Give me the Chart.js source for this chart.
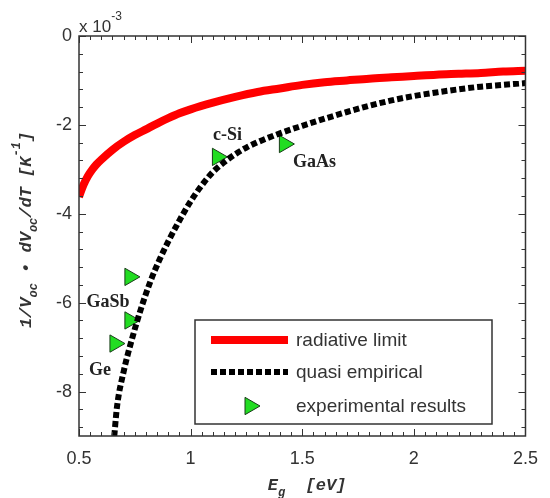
<!DOCTYPE html>
<html>
<head>
<meta charset="utf-8">
<script src="https://cdn.jsdelivr.net/npm/chart.js@4.4.0/dist/chart.umd.min.js"></script>
<style>
  html, body { margin: 0; padding: 0; background: #fff; }
  #wrap { width: 550px; height: 498px; }
</style>
</head>
<body>
<div id="wrap"><canvas id="vocChart" width="550" height="498"></canvas></div>
<script>
// Eg [eV] vs 1/Voc * dVoc/dT, values in units of 1e-3 K^-1
const radEnergy = [0.5, 0.52, 0.54, 0.56, 0.58, 0.6, 0.65, 0.7, 0.75, 0.8, 0.85, 0.9, 0.95, 1.0, 1.1, 1.2, 1.3, 1.4, 1.5,
                   1.6, 1.7, 1.8, 1.9, 2.0, 2.1, 2.2, 2.3, 2.4, 2.5];
const radiativeLimit = [-3.62, -3.35, -3.15, -3.0, -2.88, -2.78, -2.56, -2.38, -2.23, -2.1, -1.97, -1.85, -1.74, -1.65, -1.5, -1.37, -1.26, -1.18, -1.1,
                        -1.04, -1.0, -0.96, -0.93, -0.9, -0.87, -0.85, -0.83, -0.8, -0.78];

const quasiEnergy = [0.658, 0.67, 0.70, 0.74, 0.78, 0.82, 0.86, 0.90, 0.95, 1.00, 1.05, 1.10, 1.15, 1.20, 1.25,
                     1.30, 1.40, 1.50, 1.60, 1.70, 1.80, 1.90, 2.00, 2.10, 2.20, 2.30, 2.40, 2.50];
const quasiEmpirical = [-9.0, -8.35, -7.55, -6.77, -6.1, -5.52, -5.04, -4.62, -4.15, -3.72, -3.36, -3.06, -2.84, -2.66, -2.51,
                        -2.39, -2.19, -2.02, -1.86, -1.71, -1.57, -1.45, -1.35, -1.27, -1.2, -1.14, -1.1, -1.06];

const expEnergy = [1.12, 1.42, 0.728, 0.728, 0.661];
const expValues = [-2.72, -2.43, -5.42, -6.40, -6.92];
const expNames = ['c-Si', 'GaAs', 'GaSb', '', 'Ge'];

const xTicks = [0.5, 1, 1.5, 2, 2.5];
const yTicks = [0, -2, -4, -6, -8];

const toPoints = (xs, ys) => xs.map((v, i) => ({ x: v, y: ys[i] }));

// label offsets from marker, px
const nameOffsets = { 'c-Si': [10, -22], 'GaAs': [30, 18], 'GaSb': [-22, 25], 'Ge': [-15, 27] };

const axisColor = '#333';
const textColor = '#333';
const monoFont = 'bold italic 17px "Liberation Mono", monospace';
const monoSmall = 'bold italic 12px "Liberation Mono", monospace';

function drawRich(ctx, parts, x, y, rot) {
    ctx.save();
    ctx.translate(x, y);
    if (rot) ctx.rotate(rot);
    let total = 0;
    parts.forEach(p => { ctx.font = p.font; p.w = ctx.measureText(p.t).width; total += p.w; });
    let cx = -total / 2;
    ctx.textAlign = 'left';
    ctx.textBaseline = 'alphabetic';
    parts.forEach(p => { ctx.font = p.font; ctx.fillText(p.t, cx, p.dy || 0); cx += p.w; });
    ctx.restore();
}

function triangle(ctx, x, y, r) {
    if (Chart.helpers && Chart.helpers.drawPoint) {
        Chart.helpers.drawPoint(ctx, { pointStyle: 'triangle', rotation: 90, radius: r, borderWidth: 1 }, x, y);
        return;
    }
    ctx.beginPath();
    ctx.moveTo(x + r, y);
    ctx.lineTo(x - r / 2, y - r * 0.866);
    ctx.lineTo(x - r / 2, y + r * 0.866);
    ctx.closePath();
    ctx.fill();
    ctx.stroke();
}

const framePlugin = {
    id: 'frame',
    afterDraw(chart) {
        const { ctx, chartArea: a, scales: { x, y } } = chart;
        ctx.save();
        ctx.strokeStyle = axisColor;
        ctx.lineWidth = 1;
        ctx.beginPath();
        // x ticks, top and bottom, inside
        for (let i = 0; i <= 40; i++) {
            const v = 0.5 + i * 0.05;
            const px = Math.round(x.getPixelForValue(v)) + 0.5;
            const len = i % 10 === 0 ? 7 : 4;
            ctx.moveTo(px, a.bottom); ctx.lineTo(px, a.bottom - len);
            ctx.moveTo(px, a.top); ctx.lineTo(px, a.top + len);
        }
        // y ticks, left and right, inside
        for (let i = 0; i <= 22; i++) {
            const v = -i * 0.4;
            if (v < -9) break;
            const py = Math.round(y.getPixelForValue(v)) + 0.5;
            const len = i % 5 === 0 ? 7 : 4;
            ctx.moveTo(a.left, py); ctx.lineTo(a.left + len, py);
            ctx.moveTo(a.right, py); ctx.lineTo(a.right - len, py);
        }
        ctx.stroke();
        ctx.lineWidth = 1.5;
        ctx.strokeRect(a.left, a.top, a.right - a.left, a.bottom - a.top);

        // multiplier
        ctx.fillStyle = textColor;
        ctx.textAlign = 'left';
        ctx.textBaseline = 'alphabetic';
        ctx.font = '17px "Liberation Sans", Arial, sans-serif';
        ctx.fillText('x 10', a.left, 32);
        const w = ctx.measureText('x 10').width;
        ctx.font = '12px "Liberation Sans", Arial, sans-serif';
        ctx.fillText('-3', a.left + w, 20);

        // axis titles
        drawRich(ctx, [
            { t: '1/V', font: monoFont },
            { t: 'oc', font: monoSmall, dy: 6 },
            { t: ' \u2022 dV', font: monoFont },
            { t: 'oc', font: monoSmall, dy: 6 },
            { t: '/dT [K', font: monoFont },
            { t: '-1', font: monoSmall, dy: -11 },
            { t: ']', font: monoFont }
        ], 31, 230, -Math.PI / 2);
        drawRich(ctx, [
            { t: 'E', font: monoFont },
            { t: 'g', font: monoSmall, dy: 6 },
            { t: '  [eV]', font: monoFont }
        ], 307, 490, 0);

        // legend box
        const lx = 195, ly = 320, lw = 297, lh = 104;
        ctx.fillStyle = '#fff';
        ctx.fillRect(lx, ly, lw, lh);
        ctx.strokeStyle = axisColor;
        ctx.lineWidth = 1.5;
        ctx.strokeRect(lx, ly, lw, lh);
        const rows = [340, 372, 406];
        const ds = chart.data.datasets;
        ctx.lineWidth = ds[0].borderWidth;
        ctx.strokeStyle = ds[0].borderColor;
        ctx.beginPath(); ctx.moveTo(211, rows[0]); ctx.lineTo(288, rows[0]); ctx.stroke();
        ctx.lineWidth = ds[1].borderWidth;
        ctx.strokeStyle = ds[1].borderColor;
        ctx.setLineDash(ds[1].borderDash);
        ctx.beginPath(); ctx.moveTo(211, rows[1]); ctx.lineTo(288, rows[1]); ctx.stroke();
        ctx.setLineDash([]);
        ctx.fillStyle = ds[2].pointBackgroundColor;
        ctx.strokeStyle = ds[2].pointBorderColor;
        ctx.lineWidth = 1;
        triangle(ctx, 250, rows[2], 10);
        ctx.fillStyle = textColor;
        ctx.font = '19px "Liberation Sans", Arial, sans-serif';
        ctx.textBaseline = 'middle';
        ds.forEach((d, i) => ctx.fillText(d.label, 296, rows[i] + 1));
        ctx.restore();
    }
};

const namesPlugin = {
    id: 'names',
    afterDatasetsDraw(chart) {
        const { ctx, scales: { x, y } } = chart;
        ctx.save();
        ctx.fillStyle = '#222';
        ctx.font = 'bold 18px "Liberation Serif", "Times New Roman", serif';
        ctx.textAlign = 'center';
        ctx.textBaseline = 'middle';
        expNames.forEach((n, i) => {
            if (!n) return;
            const off = nameOffsets[n];
            ctx.fillText(n, x.getPixelForValue(expEnergy[i]) + off[0], y.getPixelForValue(expValues[i]) + off[1]);
        });
        ctx.restore();
    }
};

const tickFont = { family: '"Liberation Sans", Arial, sans-serif', size: 18 };

new Chart(document.getElementById('vocChart'), {
    type: 'scatter',
    data: {
        datasets: [{
            label: 'radiative limit',
            data: toPoints(radEnergy, radiativeLimit),
            showLine: true,
            borderColor: '#ff0000',
            borderWidth: 8,
            borderCapStyle: 'butt',
            pointRadius: 0,
            cubicInterpolationMode: 'monotone'
        }, {
            label: 'quasi empirical',
            data: toPoints(quasiEnergy, quasiEmpirical),
            showLine: true,
            borderColor: '#000000',
            borderWidth: 6,
            borderDash: [6, 3],
            borderCapStyle: 'butt',
            pointRadius: 0,
            cubicInterpolationMode: 'monotone'
        }, {
            label: 'experimental results',
            data: toPoints(expEnergy, expValues),
            showLine: false,
            pointStyle: 'triangle',
            pointRotation: 90,
            pointRadius: 10,
            pointBackgroundColor: '#22dd22',
            pointBorderColor: '#1a3d1a',
            pointBorderWidth: 1
        }]
    },
    options: {
        responsive: false,
        animation: false,
        layout: { padding: { top: 36, right: 21, left: 0, bottom: 0 } },
        plugins: {
            legend: { display: false },
            tooltip: { enabled: false }
        },
        scales: {
            x: {
                type: 'linear',
                min: 0.5,
                max: 2.5,
                grid: { display: false, drawTicks: false },
                border: { display: false },
                ticks: { color: textColor, font: tickFont, padding: 12, maxRotation: 0, callback: v => String(v) },
                afterBuildTicks: s => { s.ticks = xTicks.map(v => ({ value: v })); },
                afterFit: s => { s.height = 62; }
            },
            y: {
                type: 'linear',
                min: -9,
                max: 0,
                grid: { display: false, drawTicks: false },
                border: { display: false },
                ticks: { color: textColor, font: tickFont, padding: 7, callback: v => String(v) },
                afterBuildTicks: s => { s.ticks = yTicks.map(v => ({ value: v })); },
                afterFit: s => { s.width = 79; }
            }
        }
    },
    plugins: [namesPlugin, framePlugin]
});
</script>
</body>
</html>
